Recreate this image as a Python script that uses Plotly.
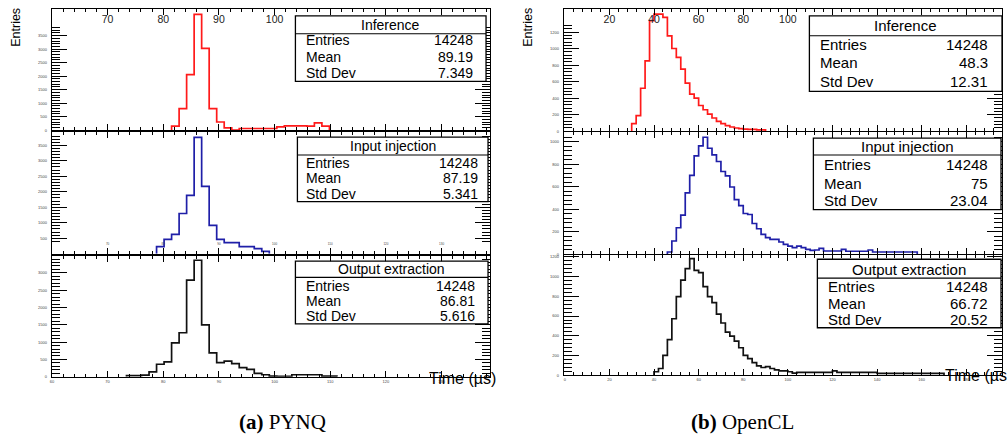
import plotly.graph_objects as go

# ---------------- data ----------------
# PYNQ (left panel): fixed-width bins, counts
pynq_bin_width = 1.35
pynq_inf_start = 81.5
pynq_inf_counts = [150, 800, 2060, 4290, 3030, 800, 300, 85, 0, 60, 60, 60, 60, 60,
                   120, 160, 160, 160, 150, 270, 150]
pynq_inj_start = 78.8
pynq_inj_counts = [230, 465, 625, 1300, 1885, 3755, 2175, 913, 465, 360, 360, 230,
                   230, 165, 80]
pynq_out_start = 73.4
pynq_out_counts = [30, 30, 45, 140, 360, 430, 975, 1270, 2790, 3365, 1500, 690, 410,
                   450, 380, 260, 210, 95, 57, 20, 10, 10, 57, 57, 57, 57, 20, 20]

# OpenCL (right panel)
ocl_bin_width = 2.0
ocl_inf_start = 30.0
ocl_inf_counts = [90, 187, 520, 853, 1340, 1420, 1420, 1380, 1155, 1002, 894, 753,
                  581, 448, 400, 311, 259, 207, 159, 118, 90, 66, 50, 38, 30, 25,
                  20, 20, 15, 15]
ocl_inj_start = 46.0
ocl_inj_counts = [20, 118, 236, 348, 546, 702, 876, 965, 1042, 944, 885, 826, 737,
                  699, 599, 487, 434, 363, 354, 274, 227, 177, 148, 133, 133, 109,
                  88, 73, 59, 73, 59, 44, 35, 38, 53, 29, 29, 29, 29, 44, 27, 27,
                  27, 27, 27, 38, 20, 20, 20, 20, 20, 20, 20, 20, 20, 20]
ocl_out_start = 40.0
ocl_out_counts = [37, 70, 203, 363, 573, 797, 963, 1080, 1180, 1063, 1040, 897, 797,
                  737, 620, 530, 437, 397, 347, 280, 203, 170, 130, 97, 80, 90, 70,
                  57, 47, 47, 37, 23, 30, 30, 30, 30, 30, 30, 30, 30, 47, 30, 30,
                  30, 30, 30, 30, 30, 30, 30, 20, 20, 20, 20, 20, 20, 20, 20, 20,
                  20, 20, 20, 20, 20, 20]

box_titles = ["Inference", "Input injection", "Output extraction"]
stat_labels = ["Entries", "Mean", "Std Dev"]
pynq_entries = ["14248", "14248", "14248"]
pynq_means = ["89.19", "87.19", "86.81"]
pynq_stds = ["7.349", "5.341", "5.616"]
ocl_entries = ["14248", "14248", "14248"]
ocl_means = ["48.3", "75", "66.72"]
ocl_stds = ["12.31", "23.04", "20.52"]

x_title = "Time (µs)"
y_title = "Entries"
captions = ["<b>(a)</b> PYNQ", "<b>(b)</b> OpenCL"]

# ---------------- layout helpers ----------------
W, H = 1007, 440
FONT = "Liberation Sans, Arial, Helvetica, sans-serif"
SERIF = "Liberation Serif, Times New Roman, serif"


def px(x):
    return x / W


def py(y):
    return 1 - y / H


def step_xy(start, width, counts):
    edges = [start + i * width for i in range(len(counts) + 1)]
    xs = [edges[0]] + edges[:-1] + [edges[-1]]
    ys = [0] + list(counts) + [0]
    return xs, ys


RED = "#ff1a1a"
BLUE = "#1f1fa8"
BLACK = "#111111"

# panel spec: (start, width, counts, color, frame px x, frame px y, ymax, ydtick, xrange, xdtick, xminor, position)
panels = [
    (pynq_inf_start, pynq_bin_width, pynq_inf_counts, RED, (50, 489), (8, 130), 4490, 500, (60, 138.7), 10, 2, "top"),
    (pynq_inj_start, pynq_bin_width, pynq_inj_counts, BLUE, (50, 489), (132, 254.5), 3926, 500, (60, 138.7), 10, 2, "mid"),
    (pynq_out_start, pynq_bin_width, pynq_out_counts, BLACK, (50, 489), (257, 378.3), 3480, 500, (60, 138.7), 10, 2, "bot"),
    (ocl_inf_start, ocl_bin_width, ocl_inf_counts, RED, (563, 1002), (8, 131), 1482, 200, (-0.4, 196), 20, 4, "top"),
    (ocl_inj_start, ocl_bin_width, ocl_inj_counts, BLUE, (563, 1002), (132, 255), 1088, 200, (-0.4, 196), 20, 4, "mid"),
    (ocl_out_start, ocl_bin_width, ocl_out_counts, BLACK, (563, 1002), (255.5, 377), 1220, 200, (-0.4, 196), 20, 4, "bot"),
]

fig = go.Figure()
layout = dict(
    width=W, height=H, autosize=False,
    margin=dict(l=0, r=0, t=0, b=0),
    paper_bgcolor="white", plot_bgcolor="white",
    showlegend=False,
    font=dict(family=FONT, color="black"),
)

for i, (start, width, counts, color, fx, fy, ymax, ydt, xr, xdt, xminor, pos) in enumerate(panels):
    n = i + 1
    xname = "x" if n == 1 else f"x{n}"
    yname = "y" if n == 1 else f"y{n}"
    xs, ys = step_xy(start, width, counts)
    fig.add_trace(go.Scatter(
        x=xs, y=ys, xaxis=xname, yaxis=yname, mode="lines",
        line=dict(shape="hv", color=color, width=1.7),
        hoverinfo="skip", showlegend=False,
    ))
    left_panel = fx[0] < 500
    xax = dict(
        domain=[px(fx[0]), px(fx[1])], range=list(xr), anchor=yname,
        showline=True, linecolor="black", linewidth=1.3, mirror="ticks",
        ticks="inside", ticklen=6, tickwidth=1, tickcolor="black",
        tick0=0, dtick=xdt,
        minor=dict(ticks="inside", ticklen=3, dtick=xminor, tickcolor="black", tick0=0),
        showgrid=False, zeroline=False,
    )
    if pos == "top":
        xax.update(side="top", ticklabelposition="inside",
                   tickfont=dict(size=10.5, family=FONT, color="#222"))
        if left_panel:
            tv = list(range(60, 140, 10))
        else:
            tv = list(range(0, 200, 20))
        xax.update(tickmode="array", tickvals=tv,
                   ticktext=[str(v) if v <= 100 else "" for v in tv])
    elif pos == "mid":
        xax.update(side="bottom", ticklabelposition="inside",
                   showticklabels=left_panel,
                   tickfont=dict(size=3, family=FONT, color="#444"))
    else:
        xax.update(side="bottom", tickfont=dict(size=4, family=FONT, color="#444"))
    yax = dict(
        domain=[py(fy[1]), py(fy[0])], range=[0, ymax], anchor=xname,
        showline=True, linecolor="black", linewidth=1.3, mirror="ticks",
        ticks="inside", ticklen=15, tickwidth=1, tickcolor="black",
        tick0=0, dtick=ydt,
        minor=dict(ticks="inside", ticklen=8, dtick=ydt / 5, tickcolor="black", tick0=0),
        showgrid=False, zeroline=False,
        tickfont=dict(size=4, family=FONT, color="#444"),
        ticklabelstandoff=3,
    )
    layout["xaxis" if n == 1 else f"xaxis{n}"] = xax
    layout["yaxis" if n == 1 else f"yaxis{n}"] = yax

fig.update_layout(**layout)

# ---------------- stat boxes ----------------
# geometry (px): x0, x1, y0, y1, separator y, title y, row ys, label x, value x, font size
box_geom = [
    (294, 485, 15, 81, 33, 24, (39.5, 56.5, 72.5), 303, 474, 14),
    (296, 487, 137, 202, 155, 146, (163, 178.5, 194), 303, 479, 14),
    (294, 487, 262, 325, 278.3, 269.5, (286.7, 301.7, 317.3), 303, 476, 14),
    (809, 1002, 15, 91, 35, 24.5, (43.3, 62.3, 81), 818, 990, 15),
    (813, 1001, 138, 210, 155, 146.7, (165, 183.3, 200.7), 822, 990, 15),
    (817, 1001, 260, 329, 279, 270, (287.3, 305, 321), 826, 990, 15),
]
box_values = []
for k in range(3):
    box_values.append((box_titles[k], [pynq_entries[k], pynq_means[k], pynq_stds[k]]))
for k in range(3):
    box_values.append((box_titles[k], [ocl_entries[k], ocl_means[k], ocl_stds[k]]))

shapes = []
annotations = []
for (x0, x1, y0, y1, sep, ty, rows, lx, vx, fs), (title, vals) in zip(box_geom, box_values):
    shapes.append(dict(type="rect", xref="paper", yref="paper",
                       x0=px(x0), x1=px(x1), y0=py(y1), y1=py(y0),
                       line=dict(color="black", width=1.3), fillcolor="white", layer="above"))
    shapes.append(dict(type="line", xref="paper", yref="paper",
                       x0=px(x0), x1=px(x1), y0=py(sep), y1=py(sep),
                       line=dict(color="black", width=1.1), layer="above"))
    annotations.append(dict(xref="paper", yref="paper", x=px((x0 + x1) / 2), y=py(ty),
                            text=title, showarrow=False, xanchor="center", yanchor="middle",
                            font=dict(size=fs, family=FONT, color="black")))
    for lab, val, ry in zip(stat_labels, vals, rows):
        annotations.append(dict(xref="paper", yref="paper", x=px(lx), y=py(ry),
                                text=lab, showarrow=False, xanchor="left", yanchor="middle",
                                font=dict(size=fs, family=FONT, color="black")))
        annotations.append(dict(xref="paper", yref="paper", x=px(vx), y=py(ry),
                                text=val, showarrow=False, xanchor="right", yanchor="middle",
                                font=dict(size=fs, family=FONT, color="black")))

# axis titles
for cx in (14, 527):
    annotations.append(dict(xref="paper", yref="paper", x=px(cx), y=py(26), text=y_title,
                            textangle=-90, showarrow=False, xanchor="center", yanchor="middle",
                            font=dict(size=12.5, family=FONT, color="black")))
annotations.append(dict(xref="paper", yref="paper", x=px(497), y=py(380), text=x_title,
                        showarrow=False, xanchor="right", yanchor="middle",
                        font=dict(size=16, family=FONT, color="black")))
annotations.append(dict(xref="paper", yref="paper", x=px(943), y=py(377), text=x_title,
                        showarrow=False, xanchor="left", yanchor="middle",
                        font=dict(size=16, family=FONT, color="black")))

# captions
for cx, cap in zip((281, 742), captions):
    annotations.append(dict(xref="paper", yref="paper", x=px(cx), y=py(424), text=cap,
                            showarrow=False, xanchor="center", yanchor="middle",
                            font=dict(size=21, family=SERIF, color="black")))

fig.update_layout(shapes=shapes, annotations=annotations)
fig.write_html(
    "out.html",
    config={"displayModeBar": False},
    post_script="document.body.style.margin='0';document.body.style.padding='0';",
)
